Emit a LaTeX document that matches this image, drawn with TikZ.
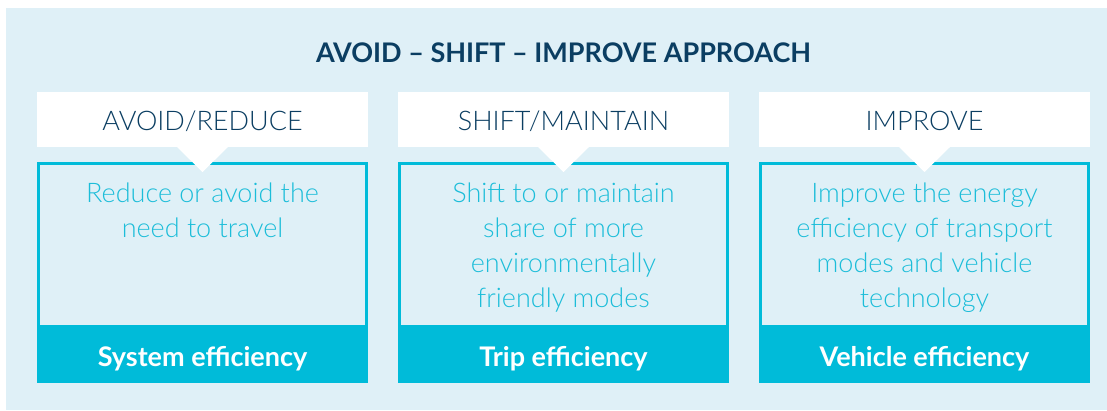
\documentclass[tikz,border=0pt]{standalone}
\usepackage{fontspec}
\setmainfont{Lato}
\newfontfamily\lightfont{Lato Light}
\definecolor{bgblue}{HTML}{DFF0F7}
\definecolor{cyanband}{HTML}{00BBD9}
\definecolor{navy}{HTML}{0B3E62}
\definecolor{bodycyan}{HTML}{1CBDD9}
\tikzset{
  headtext/.style={anchor=base, inner sep=0pt, text=navy, font=\lightfont\fontsize{27}{35}\selectfont},
  bodytext/.style={anchor=north, inner sep=0pt, align=center, text=bodycyan, font=\lightfont\fontsize{27}{35}\selectfont},
  bandtext/.style={anchor=base, inner sep=0pt, text=white, font=\bfseries\fontsize{27}{35}\selectfont},
  titletext/.style={anchor=base, inner sep=0pt, text=navy, font=\bfseries\fontsize{27}{35}\selectfont},
}
\begin{document}
\begin{tikzpicture}[x=1pt,y=-1pt]
\useasboundingbox (0,0) rectangle (1107,410);
\fill[bgblue] (6,8) rectangle (1107,410);
\node[titletext] (title) at (563.5,62) {AVOID – SHIFT – IMPROVE APPROACH};
\foreach \xl/\nm/\head/\body/\band in {
  37/a/{AVOID/REDUCE}/{Reduce or avoid the\\need to travel}/{System efficiency},
  398/b/{SHIFT/MAINTAIN}/{Shift to or maintain\\share of more\\environmentally\\friendly modes}/{Trip efficiency},
  759/c/{IMPROVE}/{Improve the energy\\efficiency of transport\\modes and vehicle\\technology}/{Vehicle efficiency}}{
  \pgfmathsetmacro{\c}{\xl+165.5}
  \fill[white] (\xl,92) rectangle ++(331,55);
  \fill[cyanband] (\xl,326) rectangle ++(331,57);
  \draw[cyanband, line width=2.7pt] (\xl+1.35,163.35) rectangle (\xl+329.65,326);
  \fill[white] (\c-25.5,147) -- (\c+25.5,147) -- (\c,172) -- cycle;
  \node[headtext] (h\nm) at (\c,130) {\head};
  \node[bodytext] (t\nm) at (\c,182.5) {\body};
  \node[bandtext] (e\nm) at (\c,366) {\band};
}
\end{tikzpicture}
\end{document}
